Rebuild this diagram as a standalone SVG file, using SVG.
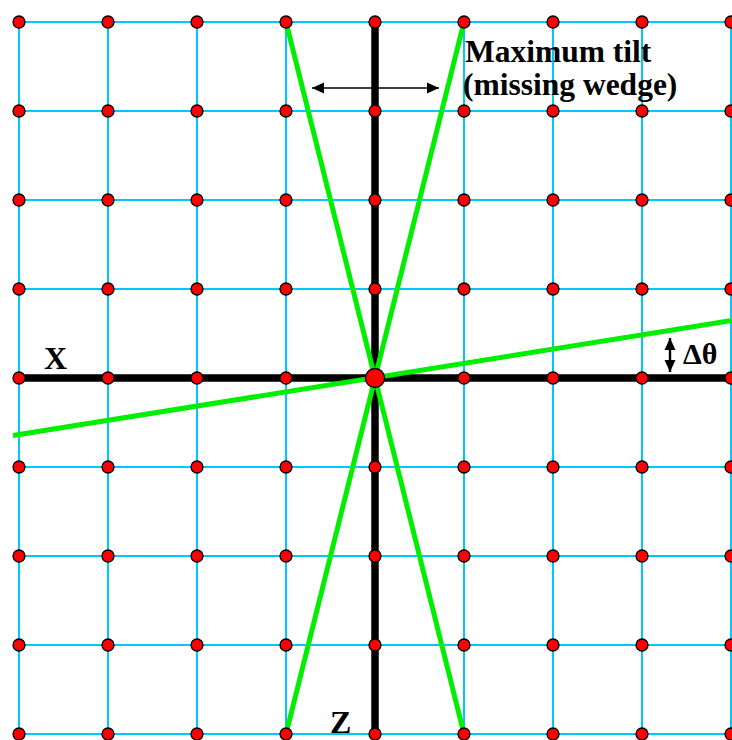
<svg xmlns="http://www.w3.org/2000/svg" width="732" height="740" viewBox="0 0 732 740">
<style>
.grid line{stroke:#00c8ff;stroke-width:2}
.axis{stroke:#000;stroke-width:7.5;stroke-linecap:butt}
.green{stroke:#00ee00;stroke-width:5;stroke-linecap:butt}
.dot{fill:#ff0000;stroke:#000;stroke-width:1.3}
.arr{stroke:#000;fill:none}
.lbl{font-family:"Liberation Serif","Times New Roman",serif;font-weight:bold;fill:#000}
</style>
<defs>
<marker id="ah" markerUnits="userSpaceOnUse" markerWidth="14" markerHeight="12" refX="12" refY="6" orient="auto-start-reverse">
<path d="M0,0.5 L12,6 L0,11.5 Z" fill="#000"/>
</marker>
</defs>
<rect width="732" height="740" fill="#fff"/>
<g id="grid" class="grid">
<line x1="19" y1="22" x2="19" y2="734"/>
<line x1="108" y1="22" x2="108" y2="734"/>
<line x1="197" y1="22" x2="197" y2="734"/>
<line x1="286" y1="22" x2="286" y2="734"/>
<line x1="375" y1="22" x2="375" y2="734"/>
<line x1="464" y1="22" x2="464" y2="734"/>
<line x1="553" y1="22" x2="553" y2="734"/>
<line x1="642" y1="22" x2="642" y2="734"/>
<line x1="731" y1="22" x2="731" y2="734"/>
<line x1="19" y1="22" x2="731" y2="22"/>
<line x1="19" y1="111" x2="731" y2="111"/>
<line x1="19" y1="200" x2="731" y2="200"/>
<line x1="19" y1="289" x2="731" y2="289"/>
<line x1="19" y1="378" x2="731" y2="378"/>
<line x1="19" y1="467" x2="731" y2="467"/>
<line x1="19" y1="556" x2="731" y2="556"/>
<line x1="19" y1="645" x2="731" y2="645"/>
<line x1="19" y1="734" x2="731" y2="734"/>
</g>
<g id="connectors">
<line class="arr" x1="312" y1="88" x2="439" y2="88" stroke-width="1.6" marker-start="url(#ah)" marker-end="url(#ah)"/>
<line class="arr" x1="670" y1="338" x2="670" y2="372" stroke-width="2.4" marker-start="url(#ah)" marker-end="url(#ah)"/>
<line id="axis-x" class="axis" x1="19" y1="378" x2="731" y2="378"/>
<line id="axis-z" class="axis" x1="375" y1="22" x2="375" y2="734"/>
<line class="green" x1="286" y1="22" x2="464" y2="734"/>
<line class="green" x1="464" y1="22" x2="286" y2="734"/>
<line class="green" x1="13" y1="435.5" x2="732" y2="320.5"/>
</g>
<g id="dots">
<circle class="dot" cx="19" cy="22" r="6"/><circle class="dot" cx="108" cy="22" r="6"/><circle class="dot" cx="197" cy="22" r="6"/><circle class="dot" cx="286" cy="22" r="6"/><circle class="dot" cx="375" cy="22" r="6"/><circle class="dot" cx="464" cy="22" r="6"/><circle class="dot" cx="553" cy="22" r="6"/><circle class="dot" cx="642" cy="22" r="6"/><circle class="dot" cx="731" cy="22" r="6"/>
<circle class="dot" cx="19" cy="111" r="6"/><circle class="dot" cx="108" cy="111" r="6"/><circle class="dot" cx="197" cy="111" r="6"/><circle class="dot" cx="286" cy="111" r="6"/><circle class="dot" cx="375" cy="111" r="6"/><circle class="dot" cx="464" cy="111" r="6"/><circle class="dot" cx="553" cy="111" r="6"/><circle class="dot" cx="642" cy="111" r="6"/><circle class="dot" cx="731" cy="111" r="6"/>
<circle class="dot" cx="19" cy="200" r="6"/><circle class="dot" cx="108" cy="200" r="6"/><circle class="dot" cx="197" cy="200" r="6"/><circle class="dot" cx="286" cy="200" r="6"/><circle class="dot" cx="375" cy="200" r="6"/><circle class="dot" cx="464" cy="200" r="6"/><circle class="dot" cx="553" cy="200" r="6"/><circle class="dot" cx="642" cy="200" r="6"/><circle class="dot" cx="731" cy="200" r="6"/>
<circle class="dot" cx="19" cy="289" r="6"/><circle class="dot" cx="108" cy="289" r="6"/><circle class="dot" cx="197" cy="289" r="6"/><circle class="dot" cx="286" cy="289" r="6"/><circle class="dot" cx="375" cy="289" r="6"/><circle class="dot" cx="464" cy="289" r="6"/><circle class="dot" cx="553" cy="289" r="6"/><circle class="dot" cx="642" cy="289" r="6"/><circle class="dot" cx="731" cy="289" r="6"/>
<circle class="dot" cx="19" cy="378" r="6"/><circle class="dot" cx="108" cy="378" r="6"/><circle class="dot" cx="197" cy="378" r="6"/><circle class="dot" cx="286" cy="378" r="6"/><circle class="dot" cx="464" cy="378" r="6"/><circle class="dot" cx="553" cy="378" r="6"/><circle class="dot" cx="642" cy="378" r="6"/><circle class="dot" cx="731" cy="378" r="6"/>
<circle class="dot" cx="19" cy="467" r="6"/><circle class="dot" cx="108" cy="467" r="6"/><circle class="dot" cx="197" cy="467" r="6"/><circle class="dot" cx="286" cy="467" r="6"/><circle class="dot" cx="375" cy="467" r="6"/><circle class="dot" cx="464" cy="467" r="6"/><circle class="dot" cx="553" cy="467" r="6"/><circle class="dot" cx="642" cy="467" r="6"/><circle class="dot" cx="731" cy="467" r="6"/>
<circle class="dot" cx="19" cy="556" r="6"/><circle class="dot" cx="108" cy="556" r="6"/><circle class="dot" cx="197" cy="556" r="6"/><circle class="dot" cx="286" cy="556" r="6"/><circle class="dot" cx="375" cy="556" r="6"/><circle class="dot" cx="464" cy="556" r="6"/><circle class="dot" cx="553" cy="556" r="6"/><circle class="dot" cx="642" cy="556" r="6"/><circle class="dot" cx="731" cy="556" r="6"/>
<circle class="dot" cx="19" cy="645" r="6"/><circle class="dot" cx="108" cy="645" r="6"/><circle class="dot" cx="197" cy="645" r="6"/><circle class="dot" cx="286" cy="645" r="6"/><circle class="dot" cx="375" cy="645" r="6"/><circle class="dot" cx="464" cy="645" r="6"/><circle class="dot" cx="553" cy="645" r="6"/><circle class="dot" cx="642" cy="645" r="6"/><circle class="dot" cx="731" cy="645" r="6"/>
<circle class="dot" cx="19" cy="734" r="6"/><circle class="dot" cx="108" cy="734" r="6"/><circle class="dot" cx="197" cy="734" r="6"/><circle class="dot" cx="286" cy="734" r="6"/><circle class="dot" cx="375" cy="734" r="6"/><circle class="dot" cx="464" cy="734" r="6"/><circle class="dot" cx="553" cy="734" r="6"/><circle class="dot" cx="642" cy="734" r="6"/><circle class="dot" cx="731" cy="734" r="6"/>
<circle id="origin" class="dot" cx="375" cy="378" r="9.5"/>
</g>
<g id="labels">
<text class="lbl" x="465" y="61.5" font-size="31.5">Maximum tilt</text>
<text class="lbl" x="463" y="95" font-size="31.5">(missing wedge)</text>
<text class="lbl" x="44" y="369" font-size="32">X</text>
<text class="lbl" x="330" y="733" font-size="32">Z</text>
<text class="lbl" x="683" y="364" font-size="30">Δθ</text>
</g>
</svg>
